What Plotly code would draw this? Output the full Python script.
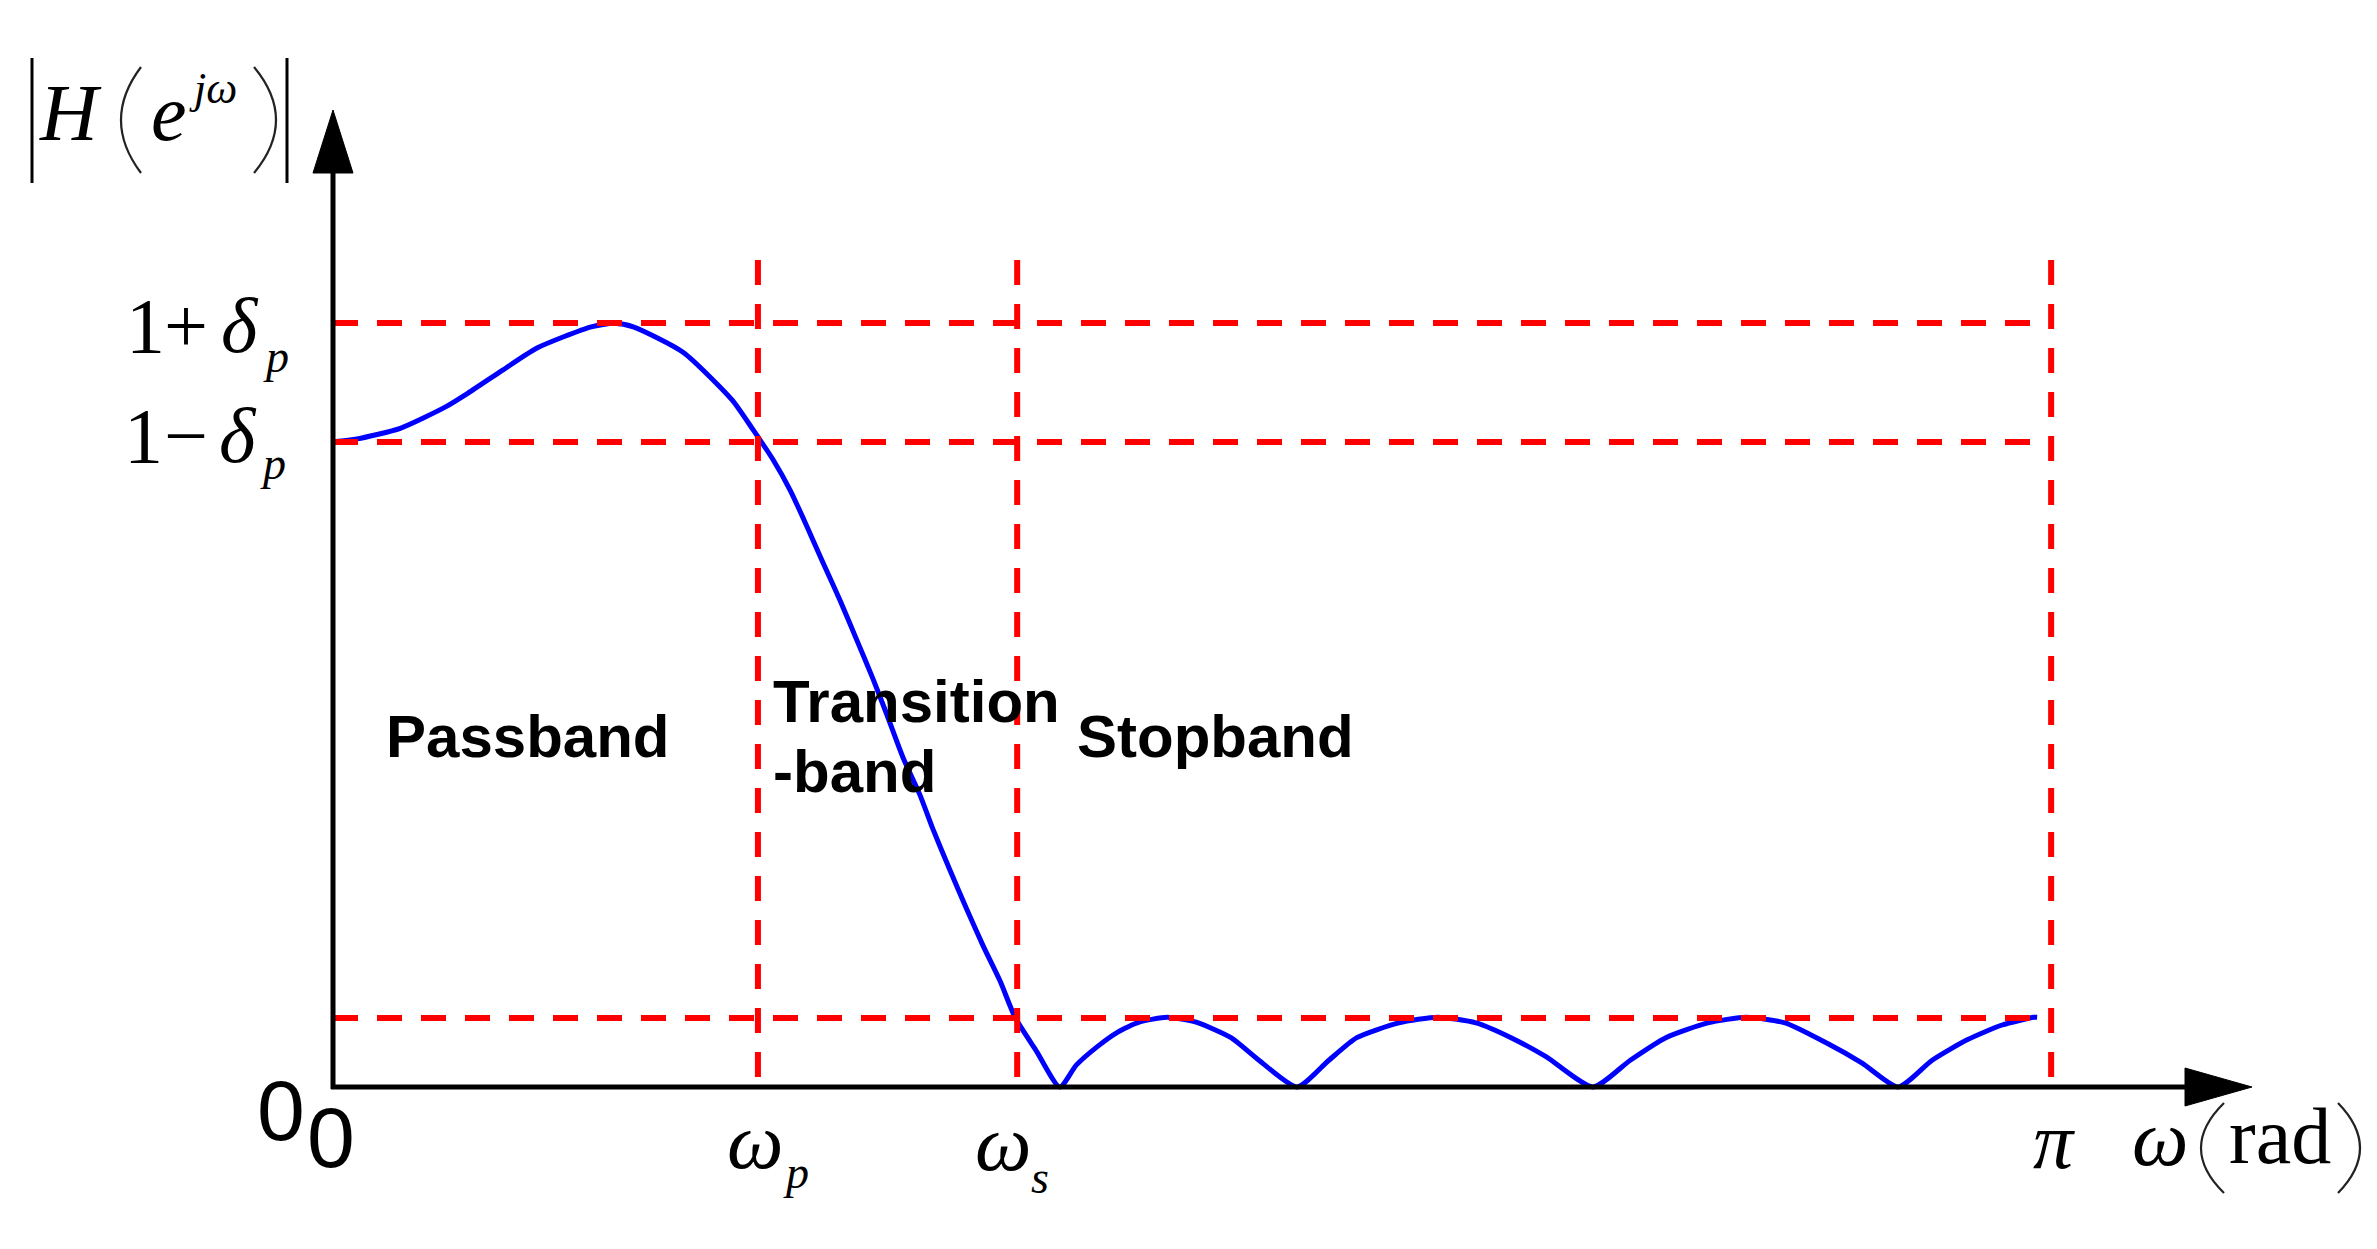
import plotly.graph_objects as go
import math

# ---------------- data ----------------
omega = [0.000, 0.044, 0.123, 0.205, 0.247, 0.311, 0.373, 0.472, 0.514, 0.549,
         0.640, 0.730, 0.768, 0.805, 0.836, 0.867, 0.896, 0.927, 0.958, 0.987,
         1.013, 1.042, 1.073, 1.097, 1.128, 1.159, 1.189, 1.220, 1.247, 1.287,
         1.329, 1.359, 1.397, 1.435, 1.474, 1.525, 1.578, 1.642, 1.693, 1.763,
         1.821, 1.872, 1.949, 2.020, 2.090, 2.154, 2.218, 2.304, 2.372, 2.437,
         2.514, 2.584, 2.655, 2.732, 2.796, 2.862, 2.924, 2.988, 3.052, 3.110,
         3.116]
magnitude = [0.916, 0.920, 0.935, 0.965, 0.985, 1.018, 1.049, 1.079, 1.084, 1.079,
             1.043, 0.975, 0.933, 0.890, 0.847, 0.795, 0.744, 0.691, 0.634, 0.580,
             0.528, 0.468, 0.415, 0.366, 0.308, 0.252, 0.200, 0.150, 0.099, 0.050,
             0.000, 0.031, 0.057, 0.078, 0.092, 0.099, 0.092, 0.070, 0.038, 0.000,
             0.038, 0.070, 0.091, 0.099, 0.091, 0.070, 0.043, 0.000, 0.038, 0.070,
             0.091, 0.099, 0.091, 0.062, 0.034, 0.000, 0.038, 0.067, 0.088, 0.099,
             0.099]

omega_p = 0.777
omega_s = 1.251
omega_end = math.pi
delta_p = 0.0845
delta_s = 0.098
h_levels = [1 + delta_p, 1 - delta_p, delta_s]
v_levels = [omega_p, omega_s, omega_end]
region_labels = ["Passband", "Transition", "-band", "Stopband"]

# ---------------- layout geometry ----------------
W, H = 2377, 1249
OX, OY = 333, 1087          # pixel of origin
SX, SY = 546.9, 704.5       # pixels per data unit


def dx(p):
    return (p - OX) / SX


def dy(p):
    return (OY - p) / SY


SERIF = "Liberation Serif, Times New Roman, serif"
SANS = "Liberation Sans, Arial, sans-serif"

fig = go.Figure()
fig.add_trace(go.Scatter(x=omega, y=magnitude, mode="lines",
                         line=dict(color="#0000FF", width=5, shape="spline",
                                   smoothing=0.6),
                         hoverinfo="skip"))

shapes = []
DASH = "25px,19px"
RED = "#FF0000"
for lv in h_levels:
    shapes.append(dict(type="line", xref="x", yref="y", x0=0, x1=omega_end,
                       y0=lv, y1=lv, line=dict(color=RED, width=6, dash=DASH)))
for lv in v_levels:
    shapes.append(dict(type="line", xref="x", yref="y", x0=lv, x1=lv,
                       y0=dy(260), y1=0, line=dict(color=RED, width=6, dash=DASH)))

# axes
shapes.append(dict(type="line", xref="x", yref="y", x0=0, x1=0, y0=dy(1089), y1=dy(160),
                   line=dict(color="black", width=5)))
shapes.append(dict(type="line", xref="x", yref="y", x0=dx(331), x1=dx(2200), y0=0, y1=0,
                   line=dict(color="black", width=5)))
shapes.append(dict(type="path", xref="x", yref="y",
                   path=f"M {dx(313)} {dy(173)} L {dx(333)} {dy(110)} L {dx(353)} {dy(173)} Z",
                   fillcolor="black", line=dict(color="black", width=1)))
shapes.append(dict(type="path", xref="x", yref="y",
                   path=f"M {dx(2185)} {dy(1068)} L {dx(2252)} {dy(1087)} L {dx(2185)} {dy(1106)} Z",
                   fillcolor="black", line=dict(color="black", width=1)))
# |  | bars of the y label
for bx in (32, 287):
    shapes.append(dict(type="line", xref="x", yref="y", x0=dx(bx), x1=dx(bx),
                       y0=dy(58), y1=dy(183), line=dict(color="black", width=3)))


def paren(x_end, x_mid, y_top, y_bot):
    xc = 2 * x_mid - x_end
    yc = (y_top + y_bot) / 2
    return dict(type="path", xref="x", yref="y",
                path=f"M {dx(x_end)} {dy(y_top)} Q {dx(xc)} {dy(yc)} {dx(x_end)} {dy(y_bot)}",
                line=dict(color="#222222", width=2.2))


shapes.append(paren(141, 121, 67, 173))
shapes.append(paren(254, 276, 67, 173))
shapes.append(paren(2224, 2201, 1103, 1193))
shapes.append(paren(2338, 2360, 1103, 1193))

annotations = []


def txt(text, left, baseline, size, family=SERIF, italic=False, bold=False,
        anchor="left"):
    k = 0.3375 if family == SERIF else 0.3465
    font = dict(family=family, size=size, color="black")
    if italic:
        font["style"] = "italic"
    if bold:
        font["weight"] = "bold"
    annotations.append(dict(text=text, x=dx(left), y=dy(baseline - k * size),
                            xref="x", yref="y", xanchor=anchor, yanchor="middle",
                            showarrow=False, font=font, borderpad=0))


# y-axis title |H(e^{jω})|
txt("H", 38, 140, 80, italic=True)
txt("e", 150, 140, 80, italic=True)
txt("jω", 188, 103, 44, italic=True)

# y tick labels
txt("1", 125, 352, 78)
txt("+", 163, 352, 78)
txt("δ", 220, 352, 78, italic=True)
txt("p", 262, 372, 46, italic=True)
txt("1", 123, 462, 78)
txt("−", 163, 462, 78)
txt("δ", 218, 462, 78, italic=True)
txt("p", 259, 479, 46, italic=True)
txt("0", 256, 1140, 86, family=SANS)
txt("0", 306, 1167, 86, family=SANS)

# x tick labels
txt("ω", 726, 1168, 80, italic=True)
txt("p", 782, 1188, 46, italic=True)
txt("ω", 974, 1170, 80, italic=True)
txt("s", 1030, 1193, 46, italic=True)
txt("π", 2032, 1168, 80, italic=True)
txt("ω", 2131, 1165, 80, italic=True)
txt("rad", 2228, 1163, 80)

# region labels
txt(region_labels[0], 385, 757, 60, family=SANS, bold=True)
txt(region_labels[1], 772, 722, 60, family=SANS, bold=True)
txt(region_labels[2], 772, 792, 60, family=SANS, bold=True)
txt(region_labels[3], 1076, 757, 60, family=SANS, bold=True)

fig.update_layout(
    width=W, height=H,
    margin=dict(l=0, r=0, t=0, b=0),
    paper_bgcolor="white", plot_bgcolor="white",
    showlegend=False,
    xaxis=dict(range=[dx(0), dx(W)], visible=False, fixedrange=True),
    yaxis=dict(range=[dy(H), dy(0)], visible=False, fixedrange=True),
    shapes=shapes,
    annotations=annotations,
)

fig.write_html("out.html", config={"displayModeBar": False},
               post_script="document.body.style.margin='0';document.body.style.overflow='hidden';")
